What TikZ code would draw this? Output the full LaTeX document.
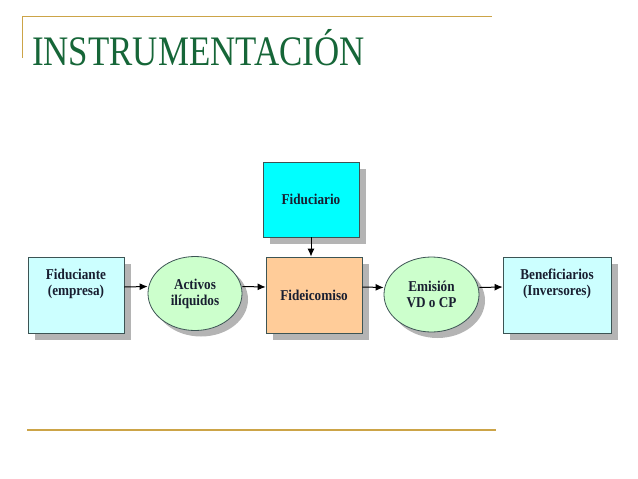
\documentclass[tikz,border=0pt]{standalone}
\usepackage{fontspec}
\setmainfont{Liberation Serif}
\newfontfamily\condfont[FakeStretch=0.88]{Liberation Serif}
\usetikzlibrary{positioning,arrows.meta,shapes.geometric,shadows}
\definecolor{inGreen}{RGB}{22,102,56}
\definecolor{inGold}{RGB}{204,164,72}
\definecolor{inPaleCyan}{RGB}{204,255,255}
\definecolor{inCyan}{RGB}{0,255,255}
\definecolor{inPaleGreen}{RGB}{204,255,204}
\definecolor{inPeach}{RGB}{255,204,153}
\definecolor{inEdge}{RGB}{60,84,84}
\definecolor{inShade}{RGB}{180,180,180}
\definecolor{inInk}{RGB}{24,30,48}

\begin{document}
\begin{tikzpicture}[
    x=1pt, y=-1pt,
    box/.style={rectangle, draw=inEdge, line width=0.8pt, minimum width=96pt, minimum height=76pt,
      align=center, text=inInk, font=\condfont\fontsize{15}{16}\selectfont\bfseries,
      drop shadow={shadow xshift=7pt, shadow yshift=-7pt, fill=inShade, opacity=1}},
    oval/.style={ellipse, draw=inEdge, line width=0.8pt, fill=inPaleGreen, minimum width=94pt, minimum height=74pt,
      align=center, text=inInk, font=\condfont\fontsize{15}{16}\selectfont\bfseries,
      drop shadow={shadow xshift=6pt, shadow yshift=-6pt, fill=inShade, opacity=1}},
    flow/.style={-{Latex[length=8pt,width=7pt]}, line width=1pt},
    rule/.style={draw=inGold, line width=1.2pt}
]
  \useasboundingbox (0,0) rectangle (638,479);

  % title and rules
  \draw[rule, line width=0.8pt] (22,58) -- (22,16) -- (492,16);
  \draw[rule, line width=1.6pt] (27,430) -- (496,430);
  \node[anchor=base west, inner sep=0, text=inGreen, font=\fontsize{42}{42}\selectfont, xscale=0.83]
    (title) at (32,65) {INSTRUMENTACIÓN};

  % nodes
  \node[box, fill=inPaleCyan] (fiduciante) at (76,295) {Fiduciante\\(empresa)\\[4pt]\strut};
  \node[oval] (activos) at (195,293.5) {Activos\\ilíquidos};
  \node[box, fill=inCyan, minimum height=75pt] (fiduciario) at (311,199.5) {Fiduciario};
  \node[box, fill=inPeach] (fideicomiso) at (314,295) {Fideicomiso};
  \node[oval, minimum width=95pt, minimum height=75pt] (emision) at (431.5,294.5) {Emisión\\VD o CP};
  \node[box, fill=inPaleCyan, minimum width=108pt] (benef) at (557,295) {Beneficiarios\\(Inversores)\\[4pt]\strut};

  % connectors
  \draw[flow] ([yshift=8pt]fiduciante.east) -- ([yshift=7pt]activos.west);
  \draw[flow] ([yshift=7pt]activos.east) -- ([yshift=8pt]fideicomiso.west);
  \draw[flow] (fiduciario.south) -- (fiduciario.south |- fideicomiso.north);
  \draw[flow] ([yshift=8pt]fideicomiso.east) -- ([yshift=7pt]emision.west);
  \draw[flow] ([yshift=7pt]emision.east) -- ([yshift=8pt]benef.west);
\end{tikzpicture}
\end{document}
